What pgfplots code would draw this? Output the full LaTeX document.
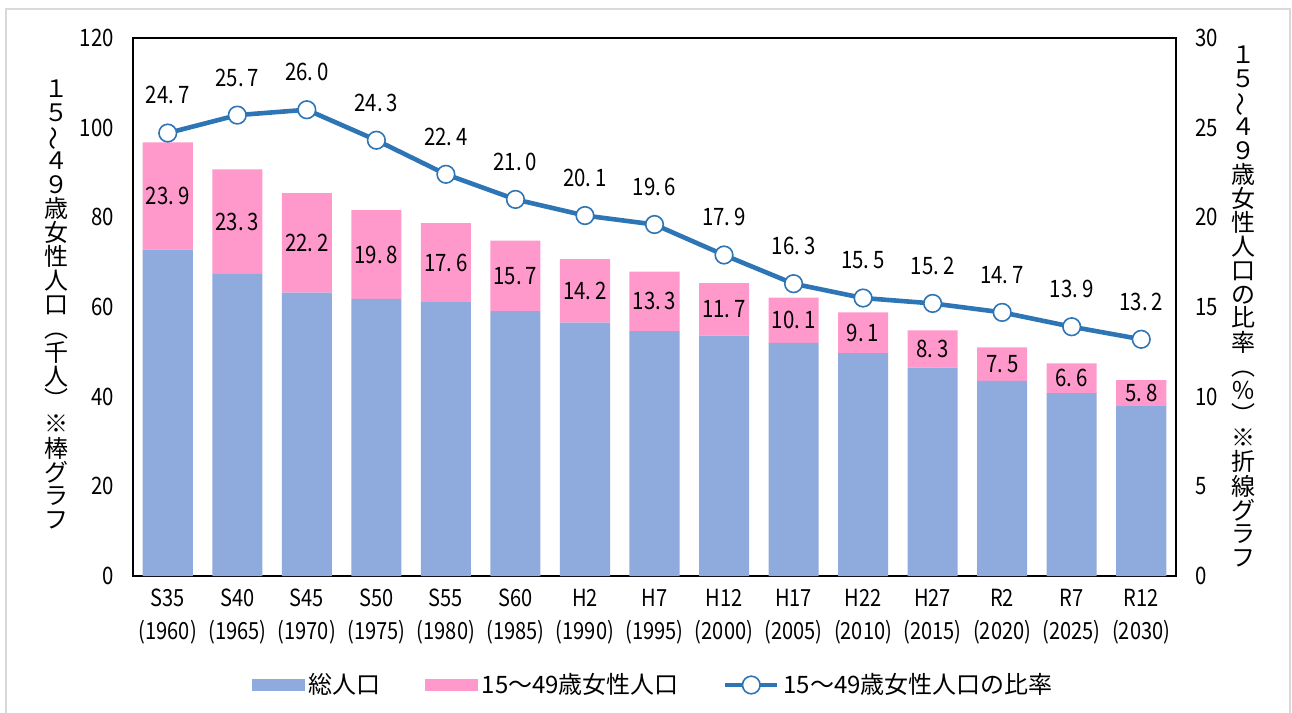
\documentclass[border=0pt]{standalone}
\usepackage{pgfplots}
\pgfplotsset{compat=1.18}
\usepackage{pgfplotstable}
\usepackage{fontspec}
\setmainfont{Noto Sans CJK JP}
\newfontfamily\numfont[FakeStretch=0.85]{Noto Sans CJK JP}
\definecolor{barblue}{HTML}{8FAADC}
\definecolor{barpink}{HTML}{FF99CC}
\definecolor{lineblue}{HTML}{2E75B6}
\definecolor{framegray}{HTML}{D9D9D9}

\newcommand\vc[1]{\hbox to 12pt{\hss\raisebox{0pt}[9pt][3pt]{#1}\hss}}

\pgfplotstableread{
x blue pink ratio
0 72.8 23.9 24.7
1 67.4 23.3 25.7
2 63.2 22.2 26.0
3 61.8 19.8 24.3
4 61.1 17.6 22.4
5 59.1 15.7 21.0
6 56.5 14.2 20.1
7 54.6 13.3 19.6
8 53.6 11.7 17.9
9 52.0 10.1 16.3
10 49.7 9.1 15.5
11 46.5 8.3 15.2
12 43.5 7.5 14.7
13 40.8 6.6 13.9
14 37.9 5.8 13.2
}\data

\pgfplotsset{
  base/.style={
    at={(66.5pt,68.5pt)}, anchor=south west,
    scale only axis, width=521.5pt, height=269pt,
    xmin=-0.5, xmax=14.5,
    major tick length=0pt,
    axis line style={line width=0.9pt, black},
    /pgf/number format/assume math mode=true,
    tick label style={font=\numfont\fontsize{12}{13}\selectfont, text=black},
  },
  mylinelegend/.style={legend image code/.code={\draw[mark repeat=2,mark phase=2,##1] plot coordinates {(0pt,0pt) (13pt,0pt) (26pt,0pt)};}},
  bluebox/.style={legend image code/.code={\fill[barblue] (0pt,-2.6pt) rectangle (26pt,2.6pt);}},
  pinkbox/.style={legend image code/.code={\fill[barpink] (0pt,-2.6pt) rectangle (26pt,2.6pt);}},
}

\begin{document}
\begin{tikzpicture}
\useasboundingbox (0,0) rectangle (646pt,356.5pt);
\fill[white] (0,0) rectangle (646pt,356.5pt);
\draw[framegray, line width=1pt] (3pt,0pt) -- (3pt,352pt) -- (645pt,352pt) -- (645pt,0pt);

\begin{axis}[base,
  ymin=0, ymax=120, ytick={0,20,...,120},
  xtick={0,...,14},
  xticklabels={{S35\\(1960)},{S40\\(1965)},{S45\\(1970)},{S50\\(1975)},{S55\\(1980)},{S60\\(1985)},{H2\\(1990)},{H7\\(1995)},{H12\\(2000)},{H17\\(2005)},{H22\\(2010)},{H27\\(2015)},{R2\\(2020)},{R7\\(2025)},{R12\\(2030)}},
  xticklabel style={align=center, font=\numfont\fontsize{11.8}{16.5}\selectfont},
  xticklabel shift=3pt,
  yticklabel shift=6pt,
  ybar stacked, bar width=0.72,
]
\addplot[fill=barblue, draw=none] table[x=x, y=blue] {\data};
\addplot[fill=barpink, draw=none] table[x=x, y=pink] {\data};
\end{axis}

\begin{axis}[base, hide axis, ymin=0, ymax=120]
\addplot[draw=none, mark=none,
  nodes near coords={\pgfmathprintnumber[fixed,fixed zerofill,precision=1,dec sep={.\,}]{\pgfplotspointmeta}},
  point meta=\thisrow{pink},
  every node near coord/.append style={anchor=center, inner sep=0pt, text=black, font=\numfont\fontsize{12}{13}\selectfont}]
  table[x=x, y expr=\thisrow{blue}+0.5*\thisrow{pink}] {\data};
\end{axis}

\begin{axis}[base, ymin=0, ymax=30, ytick={0,5,...,30},
  axis y line*=right, axis x line=none,
  yticklabel shift=6pt,
  legend columns=3,
  legend style={at={(0.5,0)}, anchor=center, yshift=-54.5pt, draw=none, fill=none,
    font=\fontsize{12}{14}\selectfont,
    /tikz/every even column/.append style={column sep=20pt}},
]
\addlegendimage{bluebox}
\addlegendentry{総人口}
\addlegendimage{pinkbox}
\addlegendentry{15～49歳女性人口}
\addplot[lineblue, line width=2.3pt, mark=*, mark size=4.4pt,
  mark options={fill=white, draw=lineblue, line width=0.8pt},
  nodes near coords={\pgfmathprintnumber[fixed,fixed zerofill,precision=1,dec sep={.\,}]{\pgfplotspointmeta}},
  point meta=\thisrow{ratio},
  every node near coord/.append style={anchor=south, inner sep=0pt, yshift=14pt, text=black, font=\numfont\fontsize{12}{13}\selectfont},
  mylinelegend]
  table[x=x, y=ratio] {\data};
\addlegendentry{15～49歳女性人口の比率}
\end{axis}

\node[inner sep=0pt, font=\fontsize{12}{12}\selectfont] at (28pt,203pt)
  {\vbox{\offinterlineskip\vc{１}\vc{５}\vc{\rotatebox[origin=c]{90}{～}}\vc{４}\vc{９}\vc{歳}\vc{女}\vc{性}\vc{人}\vc{口}\vc{︵}\vc{千}\vc{人}\vc{︶}\vc{※}\vc{棒}\vc{グ}\vc{ラ}\vc{フ}}};
\node[inner sep=0pt, font=\fontsize{12}{12}\selectfont] at (621.5pt,202pt)
  {\vbox{\offinterlineskip\vc{１}\vc{５}\vc{\rotatebox[origin=c]{90}{～}}\vc{４}\vc{９}\vc{歳}\vc{女}\vc{性}\vc{人}\vc{口}\vc{の}\vc{比}\vc{率}\vc{︵}\vc{％}\vc{︶}\vc{※}\vc{折}\vc{線}\vc{グ}\vc{ラ}\vc{フ}}};
\end{tikzpicture}
\end{document}
